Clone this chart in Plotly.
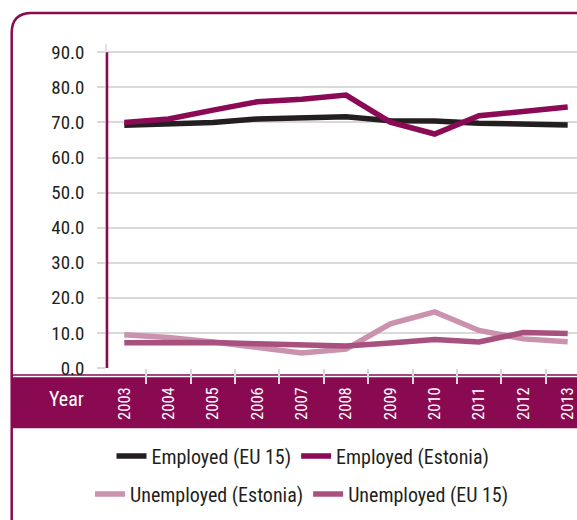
import plotly.graph_objects as go

years = ["2003", "2004", "2005", "2006", "2007", "2008", "2009", "2010", "2011", "2012", "2013"]
employed_eu15 = [69.2, 69.6, 70.0, 71.0, 71.3, 71.6, 70.5, 70.4, 69.8, 69.6, 69.3]
employed_estonia = [70.0, 71.0, 73.5, 75.9, 76.6, 77.8, 70.1, 66.7, 71.9, 73.0, 74.4]
unemployed_estonia = [9.5, 8.7, 7.4, 5.7, 4.3, 5.4, 12.6, 16.0, 10.7, 8.3, 7.5]
unemployed_eu15 = [7.2, 7.4, 7.3, 6.9, 6.5, 6.3, 7.1, 8.1, 7.4, 10.1, 9.8]
y_ticks = [0, 10, 20, 30, 40, 50, 60, 70, 80, 90]
y_tick_labels = ["0.0", "10.0", "20.0", "30.0", "40.0", "50.0", "60.0", "70.0", "80.0", "90.0"]

W, H = 577, 520
L, R, T, B = 107, 577, 44, 368
PW, PH = R - L, B - T

def px(x):
    return (x - L) / PW

def py(y):
    return (B - y) / PH

MAROON = "#8A0A52"
FONT = "Roboto Condensed, DejaVu Sans Condensed, sans-serif"
TXT = "#231F20"

fig = go.Figure()
fig.add_trace(go.Scatter(x=years, y=employed_eu15, mode="lines", name="Employed (EU 15)",
                         line=dict(color="#231F20", width=5.5), legend="legend"))
fig.add_trace(go.Scatter(x=years, y=employed_estonia, mode="lines", name="Employed (Estonia)",
                         line=dict(color="#8B0A55", width=5.5), legend="legend"))
fig.add_trace(go.Scatter(x=years, y=unemployed_estonia, mode="lines", name="Unemployed (Estonia)",
                         line=dict(color="#CB92AD", width=5.5), legend="legend2"))
fig.add_trace(go.Scatter(x=years, y=unemployed_eu15, mode="lines", name="Unemployed (EU 15)",
                         line=dict(color="#A8507E", width=5.5), legend="legend2"))

shapes = [
    dict(type="rect", xref="paper", yref="paper", x0=px(11.7), x1=px(580), y0=py(428.3), y1=py(377.3),
         fillcolor=MAROON, line=dict(width=0), layer="below"),
    dict(type="line", xref="paper", yref="paper", x0=px(11.7), x1=px(580), y0=py(375), y1=py(375),
         line=dict(color=MAROON, width=1.5), layer="below"),
    dict(type="line", xref="paper", yref="y", x0=0, x1=0, y0=0, y1=90,
         line=dict(color=MAROON, width=2.5), layer="above"),
    dict(type="path", xref="paper", yref="paper",
         path=f"M {px(11.7)},{py(560)} L {px(11.7)},{py(33)} Q {px(11.7)},{py(13)} {px(31.7)},{py(13)} L {px(600)},{py(13)}",
         line=dict(color=MAROON, width=2.5)),
]

fig.update_layout(
    width=W, height=H,
    margin=dict(l=L, r=W - R, t=T, b=H - B),
    paper_bgcolor="white", plot_bgcolor="white",
    font=dict(family=FONT, color=TXT),
    showlegend=True,
    shapes=shapes,
    annotations=[dict(text="Year", xref="paper", yref="paper", x=px(66), y=py(399),
                      showarrow=False, font=dict(size=20, color="white", family=FONT),
                      xanchor="center", yanchor="middle")],
    xaxis=dict(type="category", range=[-0.39, 10.21], showgrid=False, zeroline=False,
               showline=False, ticks="outside", ticklen=15, tickcolor="#D9D9D9", tickwidth=1.5,
               tickson="boundaries", tickangle=-90, ticklabelstandoff=15,
               tickfont=dict(size=16.5, color="white", family=FONT)),
    yaxis=dict(range=[0, 92.36], tickvals=y_ticks, ticktext=y_tick_labels,
               showgrid=True, gridcolor="#D9D9D9", gridwidth=1.5, zeroline=False,
               showline=True, linecolor="#E3E3E3", linewidth=1.5,
               ticks="outside", ticklen=8, tickcolor="#D9D9D9", tickwidth=1.5,
               ticklabelstandoff=9,
               tickfont=dict(size=19, color=TXT, family=FONT)),
    legend=dict(orientation="h", x=px(303), y=py(456), xanchor="center", yanchor="middle",
                font=dict(size=20, color=TXT, family=FONT), bgcolor="rgba(0,0,0,0)"),
    legend2=dict(orientation="h", x=px(302), y=py(494), xanchor="center", yanchor="middle",
                 font=dict(size=20, color=TXT, family=FONT), bgcolor="rgba(0,0,0,0)"),
)

fig.write_html("out.html", config={"displayModeBar": False},
               post_script="document.body.style.margin='0';")
